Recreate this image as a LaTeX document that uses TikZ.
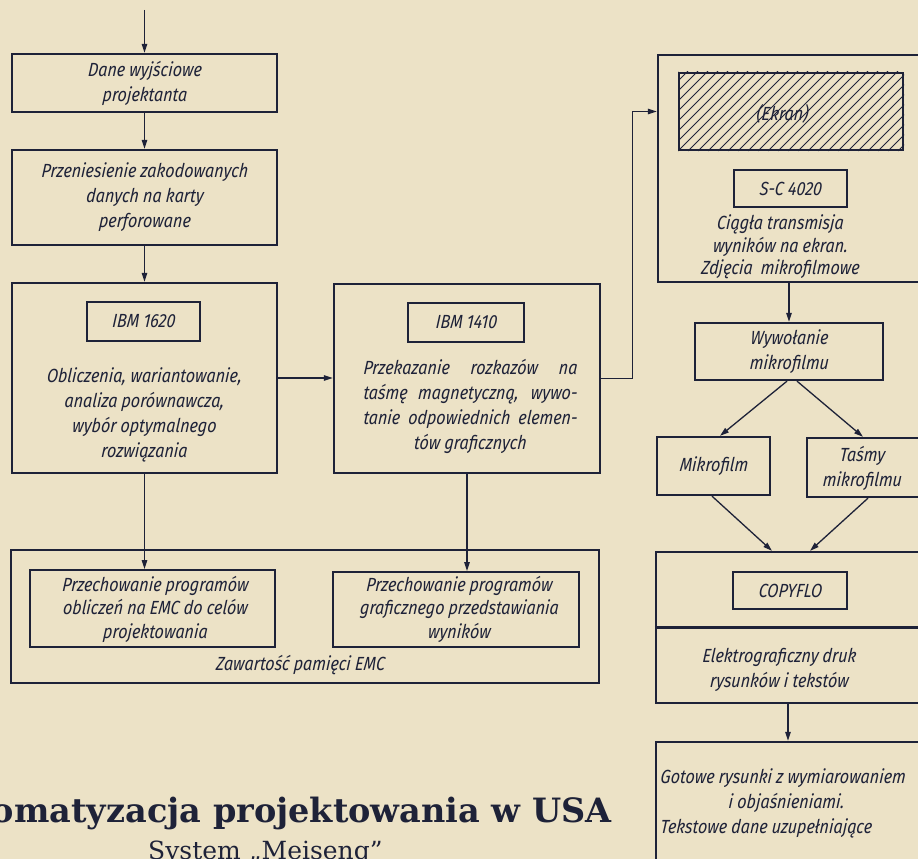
\documentclass[tikz,border=0pt]{standalone}
\usepackage{fontspec}
\usetikzlibrary{arrows.meta,calc}
\newfontfamily\techfont[FakeStretch=0.85, ItalicFeatures={FakeSlant=0.1}]{Fira Sans}
\newfontfamily\headfont{DejaVu Serif}
\definecolor{paper}{RGB}{236,226,198}
\definecolor{ink}{RGB}{30,34,56}
\newcommand{\gap}{\hspace{4pt}}
\newcommand{\just}[1]{\makebox[214pt][s]{#1}}

\begin{document}
\begin{tikzpicture}[x=1pt,y=-1pt,
  every node/.style={inner sep=0pt, text=ink},
  box/.style={draw=ink, line width=2.3pt},
  inbox/.style={draw=ink, line width=2pt},
  lbl/.style={font=\techfont\itshape\fontsize{19}{25}\selectfont, align=center},
  arr/.style={draw=ink, line width=1.3pt, -{Triangle[length=9pt,width=5.5pt]}},
]
\path[use as bounding box] (0,0) rectangle (918,859);
\fill[paper] (0,0) rectangle (918,859);
\clip (0,0) rectangle (918,859);

% left column
\node[box, minimum width=265pt, minimum height=58pt, lbl] (dane) at (144.5,83) {Dane wyjściowe\\projektanta};
\node[box, minimum width=265pt, minimum height=95pt, lbl] (karty) at (144.5,197.5) {Przeniesienie\gap zakodowanych\\danych na karty\\perforowane};
\node[box, minimum width=265pt, minimum height=190pt] (ibmA) at (144.5,378) {};
\node[inbox, minimum width=113pt, minimum height=39pt, lbl] (ibmAt) at (143.5,321.5) {IBM 1620};
\node[lbl] (ibmAx) at (144,415) {Obliczenia, wariantowanie,\\analiza\gap porównawcza,\\wybór\gap optymalnego\\rozwiązania};

% middle column
\node[box, minimum width=266pt, minimum height=189pt] (ibmB) at (467,378.5) {};
\node[inbox, minimum width=116pt, minimum height=39pt, lbl] (ibmBt) at (466,322.5) {IBM 1410};
\node[lbl] (ibmBx) at (470,406) {\just{Przekazanie rozkazów na}\\\just{taśmę magnetyczną, wywo-}\\\just{tanie odpowiednich elemen-}\\tów graficznych};

% storage
\node[box, minimum width=588pt, minimum height=133pt] (emc) at (305,616.5) {};
\node[inbox, minimum width=245pt, minimum height=77pt] (pl) at (152.5,608.5) {};
\node[lbl, font=\techfont\itshape\fontsize{19}{23.5}\selectfont] (plx) at (155,609) {Przechowanie\gap programów\\obliczeń na\gap EMC do celów\\projektowania};
\node[inbox, minimum width=246pt, minimum height=75pt] (pr) at (456,609.5) {};
\node[lbl, font=\techfont\itshape\fontsize{19}{23.5}\selectfont] (prx) at (459,609) {Przechowanie\gap programów\\graficznego\gap przedstawiania\\wyników};
\node[lbl] (emcx) at (300,665) {Zawartość\gap pamięci EMC};

% right column
\node[box, minimum width=274pt, minimum height=227pt] (ekr) at (795,168.5) {};
\node[draw=ink, line width=2pt, minimum width=224pt, minimum height=77pt] (hatch) at (791,111.5) {};
\begin{scope}
  \clip (hatch.south west) rectangle (hatch.north east);
  \foreach \k in {0,...,31}
    \draw[ink, line width=0.8pt] ($(hatch.south west)+(\k*10-80,0)$) -- ++(80,-80);
\end{scope}
\node[lbl] (ekrt) at (782,114) {(Ekran)};
\node[inbox, minimum width=113pt, minimum height=37pt, lbl] (sc) at (790.5,188.5) {S-C 4020};
\node[lbl, font=\techfont\itshape\fontsize{19}{22.5}\selectfont] (scx) at (780,247) {Ciągła transmisja\\wyników na ekran.\\Zdjęcia\gap\gap mikrofilmowe};

\node[box, minimum width=188pt, minimum height=57pt, lbl] (wyw) at (789,351.5) {Wywołanie\\mikrofilmu};
\node[box, minimum width=113pt, minimum height=58pt, lbl] (mf) at (713.5,466) {Mikrofilm};
\node[box, minimum width=123pt, minimum height=59pt] (tm) at (868.5,467.5) {};
\node[lbl] (tmt) at (862,468) {Taśmy\\mikrofilmu};

\node[box, minimum width=274pt, minimum height=151pt] (cf) at (793,627.5) {};
\draw[ink, line width=2.3pt] (cf.west) -- (cf.east);
\node[inbox, minimum width=114pt, minimum height=37pt, lbl] (cft) at (790,590.5) {COPYFLO};
\node[lbl] (cfx) at (779,669.5) {Elektrograficzny\gap druk\\rysunków i tekstów};

\node[box, minimum width=274pt, minimum height=138pt] (gt) at (793,811) {};
\node[lbl, align=left, anchor=north west] (gtx) at (660,768) {Gotowe rysunki z wymiarowaniem\\\hspace*{68pt}i objaśnieniami.\\Tekstowe dane\gap uzupełniające};

% connectors
\coordinate (in) at (144.5,10);
\draw[arr] (in) -- (dane.north);
\draw[arr] (dane.south) -- (karty.north);
\draw[arr] (karty.south) -- (ibmA.north);
\draw[arr] (ibmA.east) -- (ibmA.east -| ibmB.west);
\draw[arr] (ibmB.east) -- ++(31,0) |- (ekr.west |- hatch.west);
\draw[arr] (ibmA.south) -- (ibmA.south |- pl.north);
\draw[arr] (ibmB.south) -- (ibmB.south |- pr.north);
\draw[arr] (ekr.south -| wyw.north) -- (wyw.north);
\draw[arr] ([xshift=-2pt]wyw.south) -- ([xshift=6.5pt]mf.north);
\draw[arr] ([xshift=8pt]wyw.south) -- ([xshift=-5.5pt]tm.north);
\draw[arr] ([xshift=-1.5pt]mf.south) -- ([xshift=-21pt]cf.north);
\draw[arr] ([xshift=-0.5pt]tm.south) -- ([xshift=17pt]cf.north);
\draw[arr] ([xshift=-5pt]cf.south) -- ([xshift=-5pt]gt.north);

% heading
\node[font=\headfont\bfseries\fontsize{33.5}{40}\selectfont, anchor=base east] (title) at (612,822) {omatyzacja projektowania w USA};
\node[font=\headfont\fontsize{25}{30}\selectfont, anchor=base west] (sub) at (148,859) {System „Meiseng”};
\end{tikzpicture}
\end{document}
